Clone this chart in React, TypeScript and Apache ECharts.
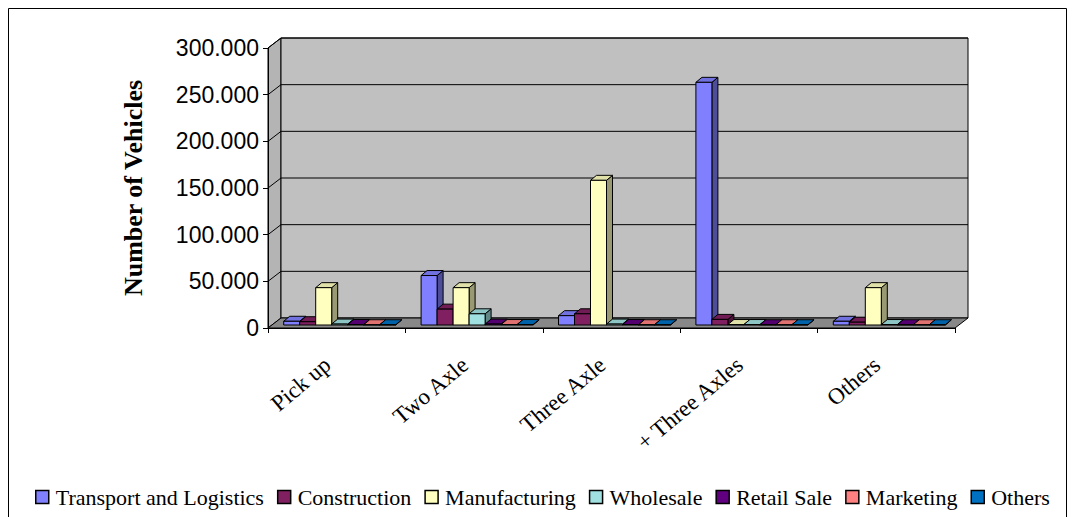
import React, { useEffect, useRef } from "react";
import * as echarts from "echarts";

const categories = ["Pick up", "Two Axle", "Three Axle", "+ Three Axles", "Others"];
const seriesNames = [
  "Transport and Logistics",
  "Construction",
  "Manufacturing",
  "Wholesale",
  "Retail Sale",
  "Marketing",
  "Others",
];
const seriesColors = ["#8080FF", "#802060", "#FFFFC0", "#A0E0E0", "#600080", "#FF8080", "#0070C0"];
const transport = [4000, 53000, 10000, 260000, 4000];
const construction = [3500, 17000, 12000, 6000, 3000];
const manufacturing = [40000, 40000, 155000, 500, 40000];
const wholesale = [1000, 12000, 1000, 500, 500];
const retail = [500, 1000, 500, 300, 300];
const marketing = [300, 500, 300, 300, 300];
const othersSeries = [300, 500, 300, 300, 300];
const seriesValues = [transport, construction, manufacturing, wholesale, retail, marketing, othersSeries];
const yTicks = [0, 50000, 100000, 150000, 200000, 250000, 300000];

function shade(hex: string, f: number) {
  const n = parseInt(hex.slice(1), 16);
  const r = Math.round(((n >> 16) & 255) * f);
  const g = Math.round(((n >> 8) & 255) * f);
  const b = Math.round((n & 255) * f);
  return `rgb(${Math.min(255, r)},${Math.min(255, g)},${Math.min(255, b)})`;
}

const WDX = 13, WDY = -10; // wall depth
const SDX = 3, SDY = -3; // bar placement inside depth
const BDX = 6, BDY = -5; // bar depth

export default function App() {
  const ref = useRef<HTMLDivElement>(null);
  useEffect(() => {
    if (!ref.current) return;
    const chart = echarts.init(ref.current, undefined, { renderer: "svg" });

    const frameSeries: any = {
      type: "custom",
      name: "__frame",
      silent: true,
      z: 1,
      data: [[0, 0]],
      renderItem: (params: any, api: any) => {
        const cs = params.coordSys;
        const x0 = cs.x, x1 = cs.x + cs.width;
        const y0 = api.coord([0, 0])[1];
        const yT = api.coord([0, 300000])[1];
        const children: any[] = [];
        children.push({
          type: "polygon",
          shape: { points: [[x0, y0], [x0 + WDX, y0 + WDY], [x0 + WDX, yT + WDY], [x0, yT]] },
          style: { fill: "#B4B4B4", stroke: "#000", lineWidth: 1 },
        });
        children.push({
          type: "rect",
          shape: { x: x0 + WDX, y: yT + WDY, width: x1 - x0, height: y0 - yT },
          style: { fill: "#C0C0C0", stroke: "#000", lineWidth: 1 },
        });
        children.push({
          type: "polygon",
          shape: { points: [[x0, y0], [x1, y0], [x1 + WDX, y0 + WDY], [x0 + WDX, y0 + WDY]] },
          style: { fill: "#888888", stroke: "#000", lineWidth: 1 },
        });
        yTicks.forEach((v) => {
          if (v === 0) return;
          const y = api.coord([0, v])[1];
          children.push({
            type: "polyline",
            shape: { points: [[x0, y], [x0 + WDX, y + WDY], [x1 + WDX, y + WDY]] },
            style: { stroke: "#000", lineWidth: 1, fill: null },
          });
        });
        return { type: "group", children };
      },
    };

    const barSeries = seriesNames.map((name, si) => ({
      type: "custom",
      name,
      z: 3,
      itemStyle: { color: seriesColors[si], borderColor: "#000", borderWidth: 1 },
      data: seriesValues[si].map((v, ci) => [ci, v]),
      renderItem: (params: any, api: any) => {
        const ci = api.value(0);
        const v = api.value(1);
        const band = api.size([1, 0])[0];
        const bw = (band * 16) / 137.4;
        const c = api.coord([ci, 0]);
        const top = api.coord([ci, v])[1] + SDY;
        const base = c[1] + SDY;
        const left = c[0] + (si - 3.5) * bw + SDX;
        const right = left + bw;
        const col = seriesColors[si];
        return {
          type: "group",
          children: [
            {
              type: "polygon",
              shape: { points: [[right, base], [right + BDX, base + BDY], [right + BDX, top + BDY], [right, top]] },
              style: { fill: shade(col, 0.6), stroke: "#000", lineWidth: 1 },
            },
            {
              type: "polygon",
              shape: { points: [[left, top], [right, top], [right + BDX, top + BDY], [left + BDX, top + BDY]] },
              style: { fill: shade(col, 0.88), stroke: "#000", lineWidth: 1 },
            },
            {
              type: "rect",
              shape: { x: left, y: top, width: bw, height: Math.max(0, base - top) },
              style: { fill: col, stroke: "#000", lineWidth: 1 },
            },
          ],
        };
      },
    }));

    chart.setOption({
      animation: false,
      backgroundColor: "#fff",
      grid: { left: 260, right: 112, top: 40, bottom: 189, containLabel: false },
      xAxis: {
        type: "category",
        data: categories,
        boundaryGap: true,
        axisLine: { show: true, lineStyle: { color: "#000", width: 1 } },
        axisTick: { show: true, length: 5, lineStyle: { color: "#000" } },
        axisLabel: {
          rotate: 40,
          margin: 26,
          padding: [0, 12, 0, 0],
          color: "#000",
          fontFamily: "Liberation Serif",
          fontSize: 23,
        },
        splitLine: { show: false },
        z: 5,
      },
      yAxis: {
        type: "value",
        min: 0,
        max: 300000,
        interval: 50000,
        name: "Number of Vehicles",
        nameLocation: "middle",
        nameGap: 122,
        nameTextStyle: { color: "#000", fontFamily: "Liberation Serif", fontWeight: "bold", fontSize: 26 },
        axisLine: { show: true, lineStyle: { color: "#000", width: 1 } },
        axisTick: { show: true, length: 5, lineStyle: { color: "#000" } },
        axisLabel: {
          margin: 9,
          color: "#000",
          fontFamily: "Liberation Sans",
          fontSize: 23,
          formatter: (v: number) => (v === 0 ? "0" : v.toLocaleString("de-DE")),
        },
        splitLine: { show: false },
        z: 5,
      },
      legend: {
        data: seriesNames,
        left: 22,
        top: 473,
        orient: "horizontal",
        icon: "rect",
        itemWidth: 13,
        itemHeight: 13,
        itemGap: 13,
        itemStyle: { borderColor: "#000", borderWidth: 1.5 },
        textStyle: { color: "#000", fontFamily: "Liberation Serif", fontSize: 22, padding: [0, 0, 0, 2] },
      },
      graphic: [
        {
          type: "polyline",
          shape: { points: [[0.5, 509], [0.5, 0.5], [1058.5, 0.5], [1058.5, 509]] },
          style: { stroke: "#000", lineWidth: 1, fill: null },
          silent: true,
        },
      ],
      series: [frameSeries, ...barSeries],
    });
    return () => chart.dispose();
  }, []);
  return <div ref={ref} style={{ width: 1059, height: 509 }} />;
}
